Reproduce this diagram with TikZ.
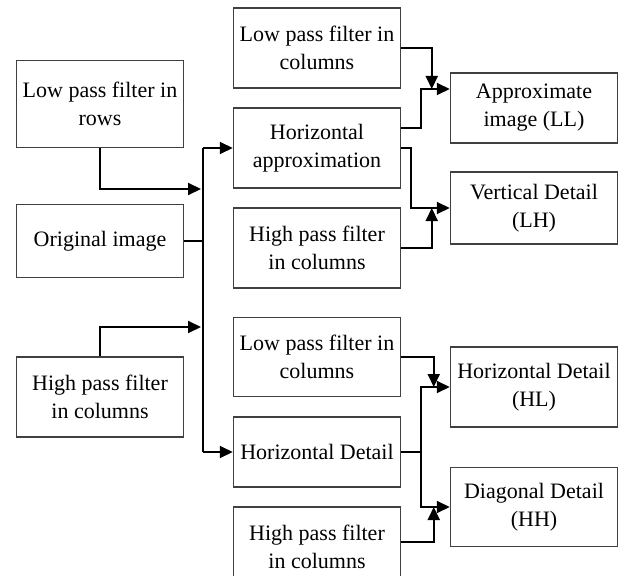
\documentclass[tikz,border=0pt]{standalone}
\usepackage{fontspec}
\setmainfont{Liberation Serif}
\usetikzlibrary{arrows.meta}

\begin{document}
\begin{tikzpicture}[x=1pt,y=-1pt,->,>={Triangle[length=13pt,width=12pt]},
                    line width=2pt,
                    box/.style={draw=black!75,line width=1.5pt,align=center,
                      inner sep=0pt,minimum width=167pt,
                      font=\fontsize{22}{28}\selectfont}]

  \useasboundingbox (0,0) rectangle (620,575);

  % input side
  \node[box,minimum height=87pt] (rows) at (100,104) {Low pass filter in\\rows};
  \node[box,minimum height=73pt] (orig) at (100,241) {Original image};
  \node[box,minimum height=80pt] (hpfl) at (100,397) {High pass filter\\in columns};

  % second stage
  \node[box,minimum height=80pt] (lpc1) at (317,48)  {Low pass filter in\\columns};
  \node[box,minimum height=80pt] (happ) at (317,148) {Horizontal\\approximation};
  \node[box,minimum height=80pt] (hpc1) at (317,248) {High pass filter\\in columns};
  \node[box,minimum height=79pt] (lpc2) at (317,357) {Low pass filter in\\columns};
  \node[box,minimum height=70pt] (hdet) at (317,452) {Horizontal Detail};
  \node[box,minimum height=80pt] (hpc2) at (317,547) {High pass filter\\in columns};

  % outputs
  \node[box,minimum height=70pt] (ll) at (534,108) {Approximate\\image (LL)};
  \node[box,minimum height=72pt] (lh) at (534,208) {Vertical Detail\\(LH)};
  \node[box,minimum height=80pt] (hl) at (534,387) {Horizontal Detail\\(HL)};
  \node[box,minimum height=79pt] (hh) at (534,507) {Diagonal Detail\\(HH)};

  \coordinate (bt) at (203,148);
  \coordinate (bb) at (203,452);
  \coordinate (j1) at (201,189);
  \coordinate (j2) at (201,327);

  \draw[-] (bt) -- (bb);
  \draw[-] (orig.east) -- (orig.east -| bt);
  \draw (bt) -- (happ.west);
  \draw (bb) -- (hdet.west);
  \draw (rows.south) |- (j1);
  \draw (hpfl.north) |- (j2);

  \draw (lpc1.east) -| ([xshift=-18pt,yshift=19pt]ll.west);
  \draw ([yshift=20pt]happ.east) -- ++(20,0) |- ([yshift=19pt]ll.west);
  \draw (happ.east) -- ++(10,0) |- (lh.west);
  \draw (hpc1.east) -| ([xshift=-18pt]lh.west);

  \draw[-] (hdet.east) -- ++(20,0) coordinate (k);
  \draw (k) |- (hl.west);
  \draw (k) |- (hh.west);
  \draw (lpc2.east) -| ([xshift=-16pt]hl.west);
  \draw ([yshift=5pt]hpc2.east) -| ([xshift=-16pt]hh.west);
\end{tikzpicture}
\end{document}
